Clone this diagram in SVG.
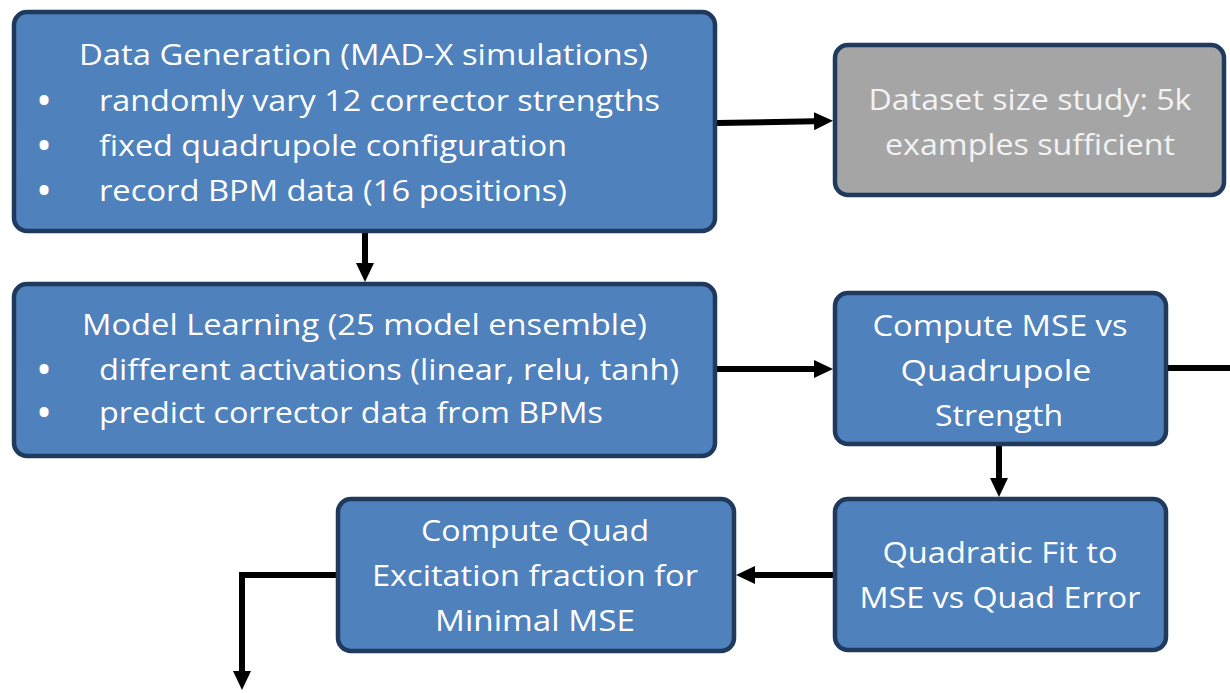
<svg xmlns="http://www.w3.org/2000/svg" width="1230" height="693" viewBox="0 0 1230 693">
  <style>
    .box { fill: #4f81bd; stroke: #1f3a5c; stroke-width: 4.5; }
    .gray { fill: #a5a5a5; stroke: #1f3a5c; stroke-width: 4.5; }
    .t { font-family: "Open Sans", "Noto Sans", "Liberation Sans", sans-serif; font-size: 30px; fill: #ffffff; }
    .tg { font-family: "Open Sans", "Noto Sans", "Liberation Sans", sans-serif; font-size: 30px; fill: #f2f2f2; }
    .b { font-family: "Open Sans", "Noto Sans", "Liberation Sans", sans-serif; font-size: 32px; font-weight: 700; fill: #ffffff; text-anchor: middle; }
    .c { text-anchor: middle; }
    .conn { fill: none; stroke: #000000; stroke-width: 6; stroke-linejoin: miter; }
  </style>
  <defs>
    <marker id="arrow" markerUnits="userSpaceOnUse" markerWidth="20" markerHeight="18" refX="1" refY="9" orient="auto">
      <path d="M0,0 L19,9 L0,18 Z" fill="#000000"/>
    </marker>
  </defs>
  <rect width="1230" height="693" fill="#ffffff"/>

  <g id="connectors">
    <path class="conn" d="M717,123 L815,121.2" marker-end="url(#arrow)"/>
    <path class="conn" d="M365,233 L365,264" marker-end="url(#arrow)"/>
    <path class="conn" d="M717,369 L815,369" marker-end="url(#arrow)"/>
    <path class="conn" d="M1168,368 L1230,368"/>
    <path class="conn" d="M999,446 L999,479" marker-end="url(#arrow)"/>
    <path class="conn" d="M833,575 L754,575" marker-end="url(#arrow)"/>
    <path class="conn" d="M336,575 L242,575 L242,672" marker-end="url(#arrow)"/>
  </g>

  <g id="node-data-generation">
    <rect class="box" x="14" y="12" width="701" height="219" rx="13"/>
    <text class="t" x="79" y="65" textLength="569" lengthAdjust="spacingAndGlyphs">Data Generation (MAD-X simulations)</text>
    <text class="b" x="44" y="112">•</text>
    <text class="t" x="99" y="111" textLength="561" lengthAdjust="spacingAndGlyphs">randomly vary 12 corrector strengths</text>
    <text class="b" x="44" y="157">•</text>
    <text class="t" x="99" y="156" textLength="468" lengthAdjust="spacingAndGlyphs">fixed quadrupole configuration</text>
    <text class="b" x="44" y="202">•</text>
    <text class="t" x="99" y="201" textLength="468" lengthAdjust="spacingAndGlyphs">record BPM data (16 positions)</text>
  </g>

  <g id="node-dataset-size">
    <rect class="gray" x="835" y="45" width="389" height="150" rx="13"/>
    <text class="tg c" x="1030" y="110" textLength="323" lengthAdjust="spacingAndGlyphs">Dataset size study: 5k</text>
    <text class="tg c" x="1030" y="155" textLength="290" lengthAdjust="spacingAndGlyphs">examples sufficient</text>
  </g>

  <g id="node-model-learning">
    <rect class="box" x="14" y="284" width="701" height="172" rx="13"/>
    <text class="t" x="82" y="335" textLength="565" lengthAdjust="spacingAndGlyphs">Model Learning (25 model ensemble)</text>
    <text class="b" x="44" y="381">•</text>
    <text class="t" x="99" y="380" textLength="580" lengthAdjust="spacingAndGlyphs">different activations (linear, relu, tanh)</text>
    <text class="b" x="44" y="424">•</text>
    <text class="t" x="99" y="423" textLength="504" lengthAdjust="spacingAndGlyphs">predict corrector data from BPMs</text>
  </g>

  <g id="node-compute-mse">
    <rect class="box" x="835" y="293" width="331" height="151" rx="13"/>
    <text class="t c" x="1000" y="336" textLength="255" lengthAdjust="spacingAndGlyphs">Compute MSE vs</text>
    <text class="t c" x="996" y="381" textLength="191" lengthAdjust="spacingAndGlyphs">Quadrupole</text>
    <text class="t c" x="999" y="426" textLength="128" lengthAdjust="spacingAndGlyphs">Strength</text>
  </g>

  <g id="node-quadratic-fit">
    <rect class="box" x="835" y="499" width="331" height="151" rx="13"/>
    <text class="t c" x="1000" y="563" textLength="235" lengthAdjust="spacingAndGlyphs">Quadratic Fit to</text>
    <text class="t c" x="1000" y="608" textLength="281" lengthAdjust="spacingAndGlyphs">MSE vs Quad Error</text>
  </g>

  <g id="node-compute-quad">
    <rect class="box" x="338" y="499" width="396" height="152" rx="13"/>
    <text class="t c" x="535" y="541" textLength="228" lengthAdjust="spacingAndGlyphs">Compute Quad</text>
    <text class="t c" x="535" y="586" textLength="326" lengthAdjust="spacingAndGlyphs">Excitation fraction for</text>
    <text class="t c" x="535" y="631" textLength="200" lengthAdjust="spacingAndGlyphs">Minimal MSE</text>
  </g>
</svg>
